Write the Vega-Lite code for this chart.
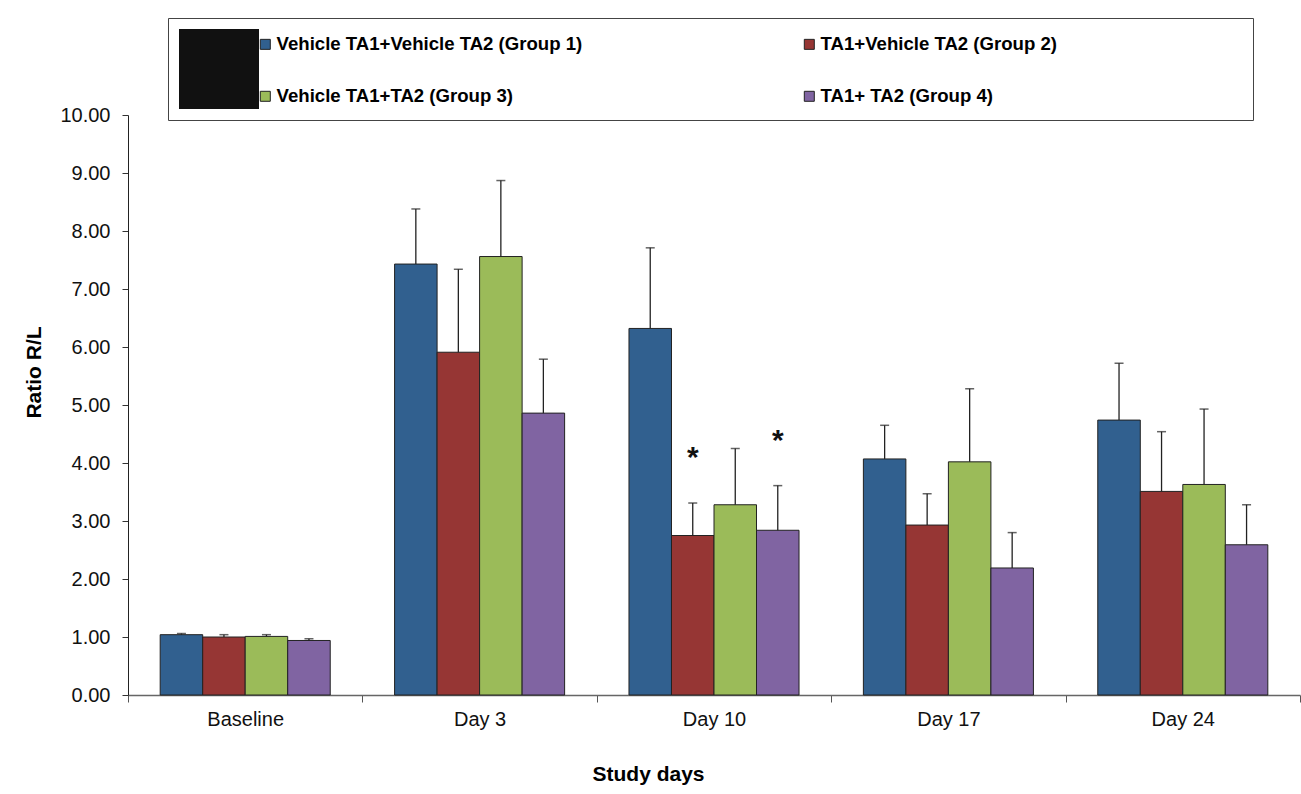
{
  "$schema": "https://vega.github.io/schema/vega-lite/v6.json",
  "width": 1172,
  "height": 580,
  "autosize": {"type": "none"},
  "padding": {"left": 128, "top": 115, "right": 1, "bottom": 99},
  "background": "white",
  "config": {
    "view": {"stroke": null},
    "font": "Liberation Sans",
    "axis": {"labelFont": "Liberation Sans", "titleFont": "Liberation Sans"},
    "legend": {"labelFont": "Liberation Sans", "titleFont": "Liberation Sans"}
  },
  "data": {
    "values": [
      {"day": "Baseline", "group": "Vehicle TA1+Vehicle TA2 (Group 1)", "mean": 1.04, "error_high": 1.06, "sig": ""},
      {"day": "Baseline", "group": "TA1+Vehicle TA2 (Group 2)", "mean": 1.00, "error_high": 1.04, "sig": ""},
      {"day": "Baseline", "group": "Vehicle TA1+TA2 (Group 3)", "mean": 1.01, "error_high": 1.04, "sig": ""},
      {"day": "Baseline", "group": "TA1+ TA2 (Group 4)", "mean": 0.94, "error_high": 0.97, "sig": ""},
      {"day": "Day 3", "group": "Vehicle TA1+Vehicle TA2 (Group 1)", "mean": 7.43, "error_high": 8.38, "sig": ""},
      {"day": "Day 3", "group": "TA1+Vehicle TA2 (Group 2)", "mean": 5.91, "error_high": 7.34, "sig": ""},
      {"day": "Day 3", "group": "Vehicle TA1+TA2 (Group 3)", "mean": 7.56, "error_high": 8.87, "sig": ""},
      {"day": "Day 3", "group": "TA1+ TA2 (Group 4)", "mean": 4.86, "error_high": 5.79, "sig": ""},
      {"day": "Day 10", "group": "Vehicle TA1+Vehicle TA2 (Group 1)", "mean": 6.32, "error_high": 7.71, "sig": ""},
      {"day": "Day 10", "group": "TA1+Vehicle TA2 (Group 2)", "mean": 2.75, "error_high": 3.31, "sig": "*"},
      {"day": "Day 10", "group": "Vehicle TA1+TA2 (Group 3)", "mean": 3.28, "error_high": 4.25, "sig": ""},
      {"day": "Day 10", "group": "TA1+ TA2 (Group 4)", "mean": 2.84, "error_high": 3.61, "sig": "*"},
      {"day": "Day 17", "group": "Vehicle TA1+Vehicle TA2 (Group 1)", "mean": 4.07, "error_high": 4.65, "sig": ""},
      {"day": "Day 17", "group": "TA1+Vehicle TA2 (Group 2)", "mean": 2.93, "error_high": 3.47, "sig": ""},
      {"day": "Day 17", "group": "Vehicle TA1+TA2 (Group 3)", "mean": 4.02, "error_high": 5.28, "sig": ""},
      {"day": "Day 17", "group": "TA1+ TA2 (Group 4)", "mean": 2.19, "error_high": 2.80, "sig": ""},
      {"day": "Day 24", "group": "Vehicle TA1+Vehicle TA2 (Group 1)", "mean": 4.74, "error_high": 5.72, "sig": ""},
      {"day": "Day 24", "group": "TA1+Vehicle TA2 (Group 2)", "mean": 3.51, "error_high": 4.54, "sig": ""},
      {"day": "Day 24", "group": "Vehicle TA1+TA2 (Group 3)", "mean": 3.63, "error_high": 4.93, "sig": ""},
      {"day": "Day 24", "group": "TA1+ TA2 (Group 4)", "mean": 2.59, "error_high": 3.28, "sig": ""}
    ]
  },
  "encoding": {
    "x": {
      "field": "day",
      "type": "nominal",
      "sort": ["Baseline", "Day 3", "Day 10", "Day 17", "Day 24"],
      "scale": {"paddingInner": 0, "paddingOuter": 0},
      "axis": {
        "title": "Study days",
        "titleFontSize": 21,
        "titleFontWeight": "bold",
        "titleColor": "#000",
        "titleX": 520,
        "titleY": 85,
        "titleBaseline": "alphabetic",
        "titleAlign": "center",
        "labelAngle": 0,
        "labelFontSize": 20,
        "labelColor": "#111",
        "labelPadding": 7,
        "tickBand": "extent",
        "tickSize": 7,
        "tickColor": "#555",
        "domainColor": "#666",
        "domainWidth": 1.5
      }
    },
    "xOffset": {
      "field": "group",
      "type": "nominal",
      "sort": ["Vehicle TA1+Vehicle TA2 (Group 1)", "TA1+Vehicle TA2 (Group 2)", "Vehicle TA1+TA2 (Group 3)", "TA1+ TA2 (Group 4)"],
      "scale": {"paddingInner": 0, "paddingOuter": 0.757}
    }
  },
  "layer": [
    {
      "mark": {"type": "bar", "stroke": "#222", "strokeWidth": 1},
      "encoding": {
        "y": {
          "field": "mean",
          "type": "quantitative",
          "scale": {"domain": [0, 10], "nice": false},
          "axis": {
            "title": "Ratio R/L",
            "titleFontSize": 21,
            "titleFontWeight": "bold",
            "titleColor": "#000",
            "titleAngle": 270,
            "titleX": -88,
            "titleY": 257,
            "titleBaseline": "alphabetic",
            "titleAlign": "center",
            "values": [0, 1, 2, 3, 4, 5, 6, 7, 8, 9, 10],
            "format": ".2f",
            "labelFontSize": 20,
            "labelColor": "#111",
            "labelPadding": 12,
            "tickSize": 6,
            "tickColor": "#333",
            "domainColor": "#222",
            "grid": false
          }
        },
        "fill": {
          "field": "group",
          "type": "nominal",
          "scale": {
            "domain": ["Vehicle TA1+Vehicle TA2 (Group 1)", "Vehicle TA1+TA2 (Group 3)", "TA1+Vehicle TA2 (Group 2)", "TA1+ TA2 (Group 4)"],
            "range": ["#31608F", "#9BBB59", "#963634", "#8064A2"]
          },
          "legend": {
            "orient": "none",
            "legendX": 40,
            "legendY": -97,
            "columns": 2,
            "columnPadding": 217,
            "rowPadding": 33,
            "padding": 17,
            "title": "\u00a0",
            "titleOrient": "left",
            "titlePadding": 71,
            "titleFontSize": 18,
            "labelFontSize": 18.6,
            "labelFontWeight": "bold",
            "labelColor": "#000",
            "labelOffset": 2,
            "labelLimit": 1000,
            "symbolType": "square",
            "symbolSize": 100,
            "symbolStrokeColor": "#222",
            "symbolStrokeWidth": 1
          }
        }
      }
    },
    {
      "mark": {"type": "rule", "color": "#222", "strokeWidth": 1.3},
      "encoding": {
        "y": {"field": "mean", "type": "quantitative"},
        "y2": {"field": "error_high"}
      }
    },
    {
      "mark": {"type": "tick", "color": "#222", "thickness": 1.5, "size": 9, "orient": "horizontal"},
      "encoding": {
        "y": {"field": "error_high", "type": "quantitative"}
      }
    },
    {
      "transform": [{"filter": "datum.sig != ''"}],
      "mark": {"type": "text", "fontSize": 30, "fontWeight": "bold", "baseline": "alphabetic", "align": "center", "dy": -36, "color": "#111"},
      "encoding": {
        "y": {"field": "error_high", "type": "quantitative"},
        "text": {"field": "sig"},
        "opacity": {
          "field": "sig",
          "type": "nominal",
          "scale": {"range": [1, 1]},
          "legend": {
            "orient": "none",
            "legendX": 40,
            "legendY": -97,
            "padding": 11,
            "title": null,
            "strokeColor": "#444",
            "fillColor": null,
            "symbolType": "square",
            "symbolSize": 6400,
            "symbolStrokeWidth": 0,
            "symbolFillColor": "white",
            "labelOpacity": 0,
            "labelColor": "white",
            "labelFontSize": 10,
            "labelOffset": 979
          }
        }
      }
    }
  ]
}
